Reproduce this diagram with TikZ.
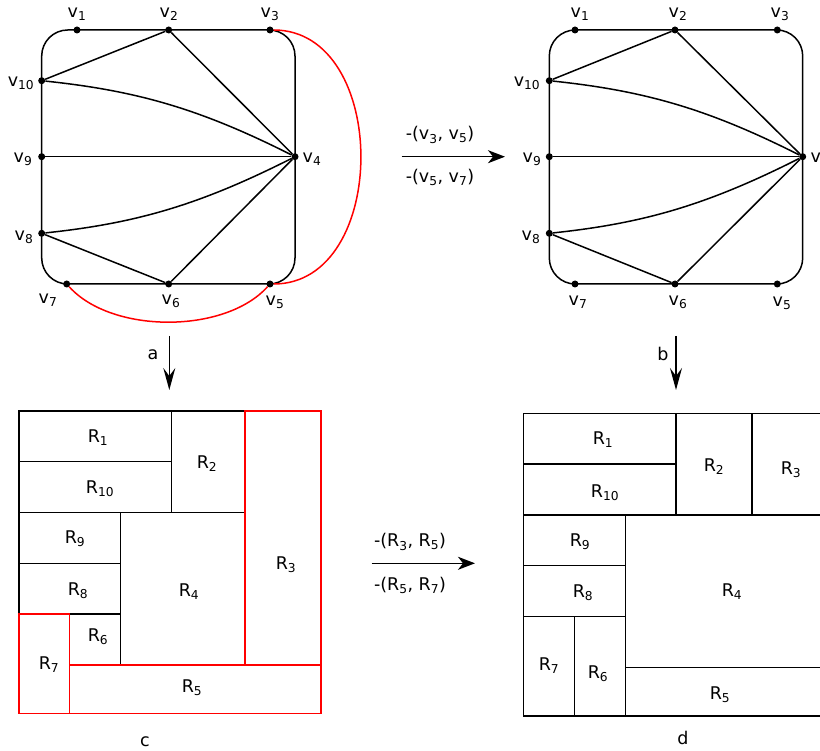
\documentclass[tikz,border=0pt]{standalone}
\usepackage{fontspec}
\setmainfont{DejaVu Sans}
\usetikzlibrary{arrows.meta}

\tikzset{
  vdot/.style={circle,fill=black,inner sep=0pt,minimum size=7pt},
  vlbl/.style={inner sep=0pt},
  edge/.style={line width=1.5pt},
  redge/.style={line width=1.5pt,red},
  arr/.style={line width=1.5pt,-{Stealth[length=17pt,width=13pt,inset=5pt]}},
  darr/.style={line width=1.5pt,-{Stealth[length=22pt,width=12pt,inset=8pt]}},
}

\begin{document}
\begin{tikzpicture}[x=1pt,y=-1pt,font=\fontsize{17.5}{20}\selectfont]
        \useasboundingbox (0,0) rectangle (820,751);
        \clip (0,0) rectangle (820,751);

        % outer faces of both graphs
        \draw[edge,rounded corners=26pt] (41.7,30) rectangle (295,284);
        \draw[edge,rounded corners=26pt] (549.3,30) rectangle (802.7,284);

        % vertices of graph a
        \foreach \n/\x/\y/\lx/\ly in {1/77/30/77/14, 2/168.7/30/169/14, 3/270/30/270/14,
            4/295/156.7/312/159, 5/270/284/275/302, 6/168.7/284/171/301, 7/66.7/284/48/300,
            8/41.7/233.3/24/237, 9/41.7/156.7/23/159, 10/41.7/80.7/21/83} {
            \node[vdot] (a-v\n) at (\x,\y) {};
            \node[vlbl] (a-l\n) at (\lx,\ly) {v\textsubscript{\n}};
        }

        % vertices of graph b
        \foreach \n/\x/\y/\lx/\ly in {1/575/30/580/14, 2/675/30/678/14, 3/777.3/30/780/14,
            4/802.7/156.7/820/159, 5/777.3/284/782/303, 6/675/284/678/302, 7/575/284/578/302,
            8/549.3/233.3/531/237, 9/549.3/156.7/532/159, 10/549.3/80.7/527/83} {
            \node[vdot] (b-v\n) at (\x,\y) {};
            \node[vlbl] (b-l\n) at (\lx,\ly) {v\textsubscript{\n}};
        }

        % inner edges
        \foreach \g in {a,b} {
            \draw[edge] (\g-v10) -- (\g-v2) -- (\g-v4);
            \draw[edge] (\g-v9) -- (\g-v4);
            \draw[edge] (\g-v8) -- (\g-v6) -- (\g-v4);
            \draw[edge] (\g-v10) .. controls +(95,10) and +(-95,-48) .. (\g-v4);
            \draw[edge] (\g-v8) .. controls +(95,-10) and +(-95,48) .. (\g-v4);
        }

        % removed edges (red)
        \draw[redge] (a-v3) .. controls +(120,0) and +(120,0) .. (a-v5);
        \draw[redge] (a-v7) .. controls +(45,50) and +(-45,50) .. (a-v5);

        % arrows between the steps
        \coordinate (ta) at (401.7,156.7);
        \coordinate (tb) at (505,156.7);
        \draw[arr] (ta) -- (tb);
        \node (t1) at (440,135) {-(v\textsubscript{3}, v\textsubscript{5})};
        \node (t2) at (440,177) {-(v\textsubscript{5}, v\textsubscript{7})};

        \coordinate (da1) at (169.3,336);
        \coordinate (da2) at (169.3,390);
        \draw[darr] (da1) -- (da2);
        \node (la) at (153,355) {a};

        \coordinate (db1) at (676,336);
        \coordinate (db2) at (676,390);
        \draw[darr] (db1) -- (db2);
        \node (lb) at (663,354) {b};

        \coordinate (ba) at (371.7,563.3);
        \coordinate (bb) at (475,563.3);
        \draw[arr] (ba) -- (bb);
        \node (b1) at (410,542) {-(R\textsubscript{3}, R\textsubscript{5})};
        \node (b2) at (410,585) {-(R\textsubscript{5}, R\textsubscript{7})};

        % rectangular dual c
        \foreach \x/\y/\X/\Y/\lx/\ly/\n in {19/411/171.3/461.7/98/438/1, 19/461.7/171.3/512.3/100/489/10,
            171.3/411/245/512.3/207/464/2, 19/512.3/120.7/563.3/75/539/9, 19/563.3/120.7/614/78/591/8,
            120.7/512.3/245/665/189/592/4, 69.7/614/120.7/665/98/637/6} {
            \draw[edge] (\x,\y) rectangle (\X,\Y);
            \node (c-R\n) at (\lx,\ly) {R\textsubscript{\n}};
        }
        \foreach \x/\y/\X/\Y/\lx/\ly/\n in {245/411/321/665/286/565/3, 19/614/69.7/713.3/49/665/7,
            69.7/665/321/713.3/192/688/5} {
            \draw[redge] (\x,\y) rectangle (\X,\Y);
            \node (c-R\n) at (\lx,\ly) {R\textsubscript{\n}};
        }
        \node (lc) at (145,742) {c};

        % rectangular dual d
        \foreach \x/\y/\X/\Y/\lx/\ly/\n in {523.3/413.7/676/464/603/440/1, 523.3/464/676/515/605/493/10,
            676/413.7/752/515/714/467/2, 752/413.7/825/515/791/470/3, 523.3/515/625.3/565.7/580/542/9,
            523.3/565.7/625.3/616.7/583/593/8, 523.3/616.7/574.3/716/549/666/7, 574.3/616.7/625.3/716/598/674/6,
            625.3/515/825/667.3/732/592/4, 625.3/667.3/825/716/720/695/5} {
            \draw[edge] (\x,\y) rectangle (\X,\Y);
            \node (d-R\n) at (\lx,\ly) {R\textsubscript{\n}};
        }
        \node (ld) at (683,738) {d};
\end{tikzpicture}
\end{document}
